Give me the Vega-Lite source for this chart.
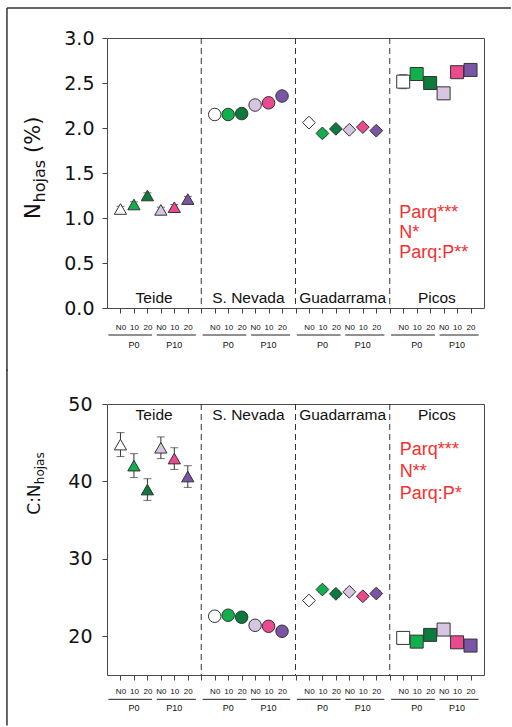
{
  "$schema": "https://vega.github.io/schema/vega-lite/v6.json",
  "padding": {"left": 5, "top": 6, "right": 0, "bottom": 0},
  "background": "white",
  "spacing": -5,
  "config": {
    "font": "Liberation Sans",
    "view": {"stroke": "#4a4a4a", "strokeWidth": 1},
    "axisY": {"labelFont": "DejaVu Sans", "labelFontSize": 19, "labelColor": "#111", "tickColor": "#444", "tickSize": 5, "labelPadding": 8, "domain": false, "grid": false},
    "axisX": {"labelFont": "Liberation Sans", "labelFontSize": 8, "labelColor": "#111", "tickColor": "#444", "tickSize": 5, "domain": false, "grid": false, "labelOverlap": false, "labelFlush": false, "labelBound": false}
  },
  "datasets": {
    "nleaf": [
      {"site": "Teide", "P": "P0", "N": "N0", "v": 1.10, "e": 0.03},
      {"site": "Teide", "P": "P0", "N": "10", "v": 1.15, "e": 0.03},
      {"site": "Teide", "P": "P0", "N": "20", "v": 1.25, "e": 0.03},
      {"site": "Teide", "P": "P10", "N": "N0", "v": 1.09, "e": 0.03},
      {"site": "Teide", "P": "P10", "N": "10", "v": 1.12, "e": 0.03},
      {"site": "Teide", "P": "P10", "N": "20", "v": 1.21, "e": 0.03},
      {"site": "S. Nevada", "P": "P0", "N": "N0", "v": 2.15, "e": 0.02},
      {"site": "S. Nevada", "P": "P0", "N": "10", "v": 2.15, "e": 0.02},
      {"site": "S. Nevada", "P": "P0", "N": "20", "v": 2.16, "e": 0.02},
      {"site": "S. Nevada", "P": "P10", "N": "N0", "v": 2.255, "e": 0.02},
      {"site": "S. Nevada", "P": "P10", "N": "10", "v": 2.28, "e": 0.02},
      {"site": "S. Nevada", "P": "P10", "N": "20", "v": 2.355, "e": 0.02},
      {"site": "Guadarrama", "P": "P0", "N": "N0", "v": 2.06, "e": 0.03},
      {"site": "Guadarrama", "P": "P0", "N": "10", "v": 1.94, "e": 0.03},
      {"site": "Guadarrama", "P": "P0", "N": "20", "v": 1.99, "e": 0.03},
      {"site": "Guadarrama", "P": "P10", "N": "N0", "v": 1.98, "e": 0.03},
      {"site": "Guadarrama", "P": "P10", "N": "10", "v": 2.01, "e": 0.03},
      {"site": "Guadarrama", "P": "P10", "N": "20", "v": 1.97, "e": 0.03},
      {"site": "Picos", "P": "P0", "N": "N0", "v": 2.515, "e": 0.078},
      {"site": "Picos", "P": "P0", "N": "10", "v": 2.60, "e": 0.05},
      {"site": "Picos", "P": "P0", "N": "20", "v": 2.50, "e": 0.07},
      {"site": "Picos", "P": "P10", "N": "N0", "v": 2.385, "e": 0.065},
      {"site": "Picos", "P": "P10", "N": "10", "v": 2.62, "e": 0.05},
      {"site": "Picos", "P": "P10", "N": "20", "v": 2.645, "e": 0.05}
    ],
    "cn": [
      {"site": "Teide", "P": "P0", "N": "N0", "v": 44.76, "e": 1.55},
      {"site": "Teide", "P": "P0", "N": "10", "v": 42.04, "e": 1.55},
      {"site": "Teide", "P": "P0", "N": "20", "v": 38.95, "e": 1.4},
      {"site": "Teide", "P": "P10", "N": "N0", "v": 44.35, "e": 1.4},
      {"site": "Teide", "P": "P10", "N": "10", "v": 42.95, "e": 1.4},
      {"site": "Teide", "P": "P10", "N": "20", "v": 40.63, "e": 1.4},
      {"site": "S. Nevada", "P": "P0", "N": "N0", "v": 22.59, "e": 0.3},
      {"site": "S. Nevada", "P": "P0", "N": "10", "v": 22.72, "e": 0.3},
      {"site": "S. Nevada", "P": "P0", "N": "20", "v": 22.46, "e": 0.3},
      {"site": "S. Nevada", "P": "P10", "N": "N0", "v": 21.42, "e": 0.3},
      {"site": "S. Nevada", "P": "P10", "N": "10", "v": 21.29, "e": 0.3},
      {"site": "S. Nevada", "P": "P10", "N": "20", "v": 20.65, "e": 0.3},
      {"site": "Guadarrama", "P": "P0", "N": "N0", "v": 24.62, "e": 0.4},
      {"site": "Guadarrama", "P": "P0", "N": "10", "v": 26.04, "e": 0.4},
      {"site": "Guadarrama", "P": "P0", "N": "20", "v": 25.48, "e": 0.4},
      {"site": "Guadarrama", "P": "P10", "N": "N0", "v": 25.74, "e": 0.4},
      {"site": "Guadarrama", "P": "P10", "N": "10", "v": 25.17, "e": 0.4},
      {"site": "Guadarrama", "P": "P10", "N": "20", "v": 25.52, "e": 0.4},
      {"site": "Picos", "P": "P0", "N": "N0", "v": 19.79, "e": 0.4},
      {"site": "Picos", "P": "P0", "N": "10", "v": 19.31, "e": 0.4},
      {"site": "Picos", "P": "P0", "N": "20", "v": 20.18, "e": 0.4},
      {"site": "Picos", "P": "P10", "N": "N0", "v": 20.87, "e": 0.4},
      {"site": "Picos", "P": "P10", "N": "10", "v": 19.22, "e": 0.4},
      {"site": "Picos", "P": "P10", "N": "20", "v": 18.80, "e": 0.4}
    ]
  },
  "vconcat": [
    {
      "width": 377,
      "height": 270,
      "data": {"name": "nleaf"},
      "transform": [
        {"calculate": "indexof(['Teide','S. Nevada','Guadarrama','Picos'], datum.site) * 7 + (datum.P == 'P10' ? 3 : 0) + indexof(['N0','10','20'], datum.N) + 1", "as": "pos"},
        {"calculate": "datum.P + ' ' + datum.N", "as": "trt"},
        {"calculate": "datum.v - datum.e", "as": "lo"},
        {"calculate": "datum.v + datum.e", "as": "hi"}
      ],
      "layer": [
        {
          "transform": [
            {"aggregate": [{"op": "max", "field": "pos", "as": "mx"}], "groupby": ["site"]},
            {"calculate": "datum.mx + 1", "as": "b"},
            {"filter": "datum.b < 28"}
          ],
          "mark": {"type": "rule", "strokeDash": [6, 4], "color": "#333", "strokeWidth": 1},
          "encoding": {
            "x": {"field": "b", "type": "quantitative", "scale": {"domain": [0, 28], "nice": false, "zero": false},
              "axis": {"title": null, "tickCount": 40, "values": [1,2,3,4,5,6,7,8,9,10,11,12,13,14,15,16,17,18,19,20,21,22,23,24,25,26,27], "labelPadding": 10,
                "labelExpr": "datum.value % 7 == 0 ? '' : (datum.value % 7 == 1 || datum.value % 7 == 4) ? 'N0' : (datum.value % 7 == 2 || datum.value % 7 == 5) ? '10' : '20'"}}
          }
        },
        {
          "mark": {"type": "rule", "color": "#333", "strokeWidth": 1},
          "encoding": {
            "x": {"field": "pos", "type": "quantitative", "scale": {"domain": [0, 28], "nice": false, "zero": false}, "axis": {"title": null}},
            "y": {"field": "lo", "type": "quantitative", "scale": {"domain": [0, 3], "nice": false, "zero": false},
              "axis": {"title": null, "values": [0, 0.5, 1, 1.5, 2, 2.5, 3], "tickCount": 20, "format": ".1f"}},
            "y2": {"field": "hi"}
          }
        },
        {
          "transform": [{"fold": ["lo", "hi"], "as": ["k", "cap"]}],
          "mark": {"type": "tick", "orient": "horizontal", "color": "#333", "thickness": 1, "size": 8},
          "encoding": {
            "x": {"field": "pos", "type": "quantitative", "scale": {"domain": [0, 28], "nice": false, "zero": false}, "axis": {"title": null}},
            "y": {"field": "cap", "type": "quantitative", "scale": {"domain": [0, 3], "nice": false, "zero": false}, "axis": {"title": null}}
          }
        },
        {
          "mark": {"type": "point", "filled": true, "stroke": "#333", "strokeWidth": 1, "opacity": 1},
          "encoding": {
            "x": {"field": "pos", "type": "quantitative", "scale": {"domain": [0, 28], "nice": false, "zero": false},
              "axis": {"title": null, "tickCount": 40, "values": [1,2,3,4,5,6,7,8,9,10,11,12,13,14,15,16,17,18,19,20,21,22,23,24,25,26,27], "labelPadding": 10,
                "labelExpr": "datum.value % 7 == 0 ? '' : (datum.value % 7 == 1 || datum.value % 7 == 4) ? 'N0' : (datum.value % 7 == 2 || datum.value % 7 == 5) ? '10' : '20'"}},
            "y": {"field": "v", "type": "quantitative", "scale": {"domain": [0, 3], "nice": false, "zero": false},
              "axis": {"title": null, "values": [0, 0.5, 1, 1.5, 2, 2.5, 3], "tickCount": 20, "format": ".1f"}},
            "shape": {"field": "site", "type": "nominal", "scale": {"domain": ["Teide", "S. Nevada", "Guadarrama", "Picos"], "range": ["triangle-up", "circle", "diamond", "square"]}, "legend": null},
            "size": {"field": "site", "type": "ordinal", "scale": {"domain": ["Teide", "S. Nevada", "Guadarrama", "Picos"], "range": [150, 169, 200, 160]}, "legend": null},
            "fill": {"field": "trt", "type": "nominal", "scale": {"domain": ["P0 N0", "P0 10", "P0 20", "P10 N0", "P10 10", "P10 20"], "range": ["#ffffff", "#12b04c", "#0b7a3b", "#d6c6e1", "#ec4a8e", "#7a55a6"]}, "legend": null}
          }
        },
        {
          "transform": [{"aggregate": [{"op": "mean", "field": "pos", "as": "c"}], "groupby": ["site"]}],
          "mark": {"type": "text", "fontSize": 15.5, "color": "#111", "baseline": "middle"},
          "encoding": {
            "x": {"field": "c", "type": "quantitative", "scale": {"domain": [0, 28], "nice": false, "zero": false}, "axis": {"title": null}},
            "y": {"datum": 0.114, "type": "quantitative", "scale": {"domain": [0, 3], "nice": false, "zero": false}, "axis": {"title": null}},
            "text": {"field": "site"}
          }
        },
        {
          "transform": [
            {"aggregate": [{"op": "min", "field": "pos", "as": "mn"}, {"op": "max", "field": "pos", "as": "mx"}], "groupby": ["site", "P"]},
            {"calculate": "datum.mn - (datum.P == 'P0' ? 0.9 : 0.3)", "as": "s"},
            {"calculate": "datum.mx + (datum.P == 'P0' ? 0.35 : 0.6)", "as": "e2"}
          ],
          "mark": {"type": "rule", "color": "#222", "strokeWidth": 1},
          "encoding": {
            "x": {"field": "s", "type": "quantitative", "scale": {"domain": [0, 28], "nice": false, "zero": false}, "axis": {"title": null}},
            "x2": {"field": "e2"},
            "y": {"datum": -0.3, "type": "quantitative", "scale": {"domain": [0, 3], "nice": false, "zero": false}, "axis": {"title": null}}
          }
        },
        {
          "transform": [{"aggregate": [{"op": "mean", "field": "pos", "as": "c"}], "groupby": ["site", "P"]}],
          "mark": {"type": "text", "fontSize": 9, "color": "#111", "baseline": "middle"},
          "encoding": {
            "x": {"field": "c", "type": "quantitative", "scale": {"domain": [0, 28], "nice": false, "zero": false}, "axis": {"title": null}},
            "y": {"datum": -0.41, "type": "quantitative", "scale": {"domain": [0, 3], "nice": false, "zero": false}, "axis": {"title": null}},
            "text": {"field": "P"}
          }
        },
        {
          "data": {"values": [{"t": "Parq***\nN*\nParq:P**"}]},
          "mark": {"type": "text", "align": "left", "baseline": "top", "lineBreak": "\n", "lineHeight": 20, "fontSize": 18, "color": "#f5302e"},
          "encoding": {
            "x": {"datum": 21.7, "type": "quantitative", "scale": {"domain": [0, 28], "nice": false, "zero": false}, "axis": {"title": null}},
            "y": {"datum": 1.159, "type": "quantitative", "scale": {"domain": [0, 3], "nice": false, "zero": false}, "axis": {"title": null}},
            "text": {"field": "t"}
          }
        },
        {
          "data": {"values": [{"t": "N"}]},
          "mark": {"type": "text", "align": "left", "baseline": "alphabetic", "angle": 270, "font": "DejaVu Sans", "fontSize": 21, "color": "#111"},
          "encoding": {
            "x": {"datum": -4.976, "type": "quantitative", "scale": {"domain": [0, 28], "nice": false, "zero": false}, "axis": {"title": null}},
            "y": {"datum": 0.99, "type": "quantitative", "scale": {"domain": [0, 3], "nice": false, "zero": false}, "axis": {"title": null}},
            "text": {"field": "t"}
          }
        },
        {
          "data": {"values": [{"t": "hojas"}]},
          "mark": {"type": "text", "align": "left", "baseline": "alphabetic", "angle": 270, "font": "DejaVu Sans", "fontSize": 16, "dx": 16.5, "dy": 5, "color": "#111"},
          "encoding": {
            "x": {"datum": -4.976, "type": "quantitative", "scale": {"domain": [0, 28], "nice": false, "zero": false}, "axis": {"title": null}},
            "y": {"datum": 0.99, "type": "quantitative", "scale": {"domain": [0, 3], "nice": false, "zero": false}, "axis": {"title": null}},
            "text": {"field": "t"}
          }
        },
        {
          "data": {"values": [{"t": "(%)"}]},
          "mark": {"type": "text", "align": "left", "baseline": "alphabetic", "angle": 270, "font": "DejaVu Sans", "fontSize": 21, "dx": 66, "color": "#111"},
          "encoding": {
            "x": {"datum": -4.976, "type": "quantitative", "scale": {"domain": [0, 28], "nice": false, "zero": false}, "axis": {"title": null}},
            "y": {"datum": 0.99, "type": "quantitative", "scale": {"domain": [0, 3], "nice": false, "zero": false}, "axis": {"title": null}},
            "text": {"field": "t"}
          }
        },
        {
          "data": {"values": [{"part": "left"}]},
          "mark": {"type": "rule", "color": "#333", "strokeWidth": 1.5},
          "encoding": {
            "x": {"datum": -7.43, "type": "quantitative", "scale": {"domain": [0, 28], "nice": false, "zero": false}, "axis": {"title": null}},
            "y": {"datum": 3.333, "type": "quantitative", "scale": {"domain": [0, 3], "nice": false, "zero": false}, "axis": {"title": null}},
            "y2": {"datum": -0.7}
          }
        },
        {
          "data": {"values": [{"part": "top"}]},
          "mark": {"type": "rule", "color": "#333", "strokeWidth": 1.5},
          "encoding": {
            "x": {"datum": -7.43, "type": "quantitative", "scale": {"domain": [0, 28], "nice": false, "zero": false}, "axis": {"title": null}},
            "x2": {"datum": 30.0},
            "y": {"datum": 3.333, "type": "quantitative", "scale": {"domain": [0, 3], "nice": false, "zero": false}, "axis": {"title": null}}
          }
        }
      ]
    },
    {
      "width": 377,
      "height": 271,
      "data": {"name": "cn"},
      "transform": [
        {"calculate": "indexof(['Teide','S. Nevada','Guadarrama','Picos'], datum.site) * 7 + (datum.P == 'P10' ? 3 : 0) + indexof(['N0','10','20'], datum.N) + 1", "as": "pos"},
        {"calculate": "datum.P + ' ' + datum.N", "as": "trt"},
        {"calculate": "datum.v - datum.e", "as": "lo"},
        {"calculate": "datum.v + datum.e", "as": "hi"}
      ],
      "layer": [
        {
          "transform": [
            {"aggregate": [{"op": "max", "field": "pos", "as": "mx"}], "groupby": ["site"]},
            {"calculate": "datum.mx + 1", "as": "b"},
            {"filter": "datum.b < 28"}
          ],
          "mark": {"type": "rule", "strokeDash": [6, 4], "color": "#333", "strokeWidth": 1},
          "encoding": {
            "x": {"field": "b", "type": "quantitative", "scale": {"domain": [0, 28], "nice": false, "zero": false},
              "axis": {"title": null, "tickCount": 40, "values": [1,2,3,4,5,6,7,8,9,10,11,12,13,14,15,16,17,18,19,20,21,22,23,24,25,26,27], "labelPadding": 7,
                "labelExpr": "datum.value % 7 == 0 ? '' : (datum.value % 7 == 1 || datum.value % 7 == 4) ? 'N0' : (datum.value % 7 == 2 || datum.value % 7 == 5) ? '10' : '20'"}}
          }
        },
        {
          "mark": {"type": "rule", "color": "#333", "strokeWidth": 1},
          "encoding": {
            "x": {"field": "pos", "type": "quantitative", "scale": {"domain": [0, 28], "nice": false, "zero": false}, "axis": {"title": null}},
            "y": {"field": "lo", "type": "quantitative", "scale": {"domain": [15, 50], "nice": false, "zero": false},
              "axis": {"title": null, "values": [20, 30, 40, 50], "tickCount": 20, "labelPadding": 10}},
            "y2": {"field": "hi"}
          }
        },
        {
          "transform": [{"fold": ["lo", "hi"], "as": ["k", "cap"]}],
          "mark": {"type": "tick", "orient": "horizontal", "color": "#333", "thickness": 1, "size": 8},
          "encoding": {
            "x": {"field": "pos", "type": "quantitative", "scale": {"domain": [0, 28], "nice": false, "zero": false}, "axis": {"title": null}},
            "y": {"field": "cap", "type": "quantitative", "scale": {"domain": [15, 50], "nice": false, "zero": false}, "axis": {"title": null}}
          }
        },
        {
          "mark": {"type": "point", "filled": true, "stroke": "#333", "strokeWidth": 1, "opacity": 1},
          "encoding": {
            "x": {"field": "pos", "type": "quantitative", "scale": {"domain": [0, 28], "nice": false, "zero": false},
              "axis": {"title": null, "tickCount": 40, "values": [1,2,3,4,5,6,7,8,9,10,11,12,13,14,15,16,17,18,19,20,21,22,23,24,25,26,27], "labelPadding": 7,
                "labelExpr": "datum.value % 7 == 0 ? '' : (datum.value % 7 == 1 || datum.value % 7 == 4) ? 'N0' : (datum.value % 7 == 2 || datum.value % 7 == 5) ? '10' : '20'"}},
            "y": {"field": "v", "type": "quantitative", "scale": {"domain": [15, 50], "nice": false, "zero": false},
              "axis": {"title": null, "values": [20, 30, 40, 50], "tickCount": 20, "labelPadding": 10}},
            "shape": {"field": "site", "type": "nominal", "scale": {"domain": ["Teide", "S. Nevada", "Guadarrama", "Picos"], "range": ["triangle-up", "circle", "diamond", "square"]}, "legend": null},
            "size": {"field": "site", "type": "ordinal", "scale": {"domain": ["Teide", "S. Nevada", "Guadarrama", "Picos"], "range": [160, 155, 200, 160]}, "legend": null},
            "fill": {"field": "trt", "type": "nominal", "scale": {"domain": ["P0 N0", "P0 10", "P0 20", "P10 N0", "P10 10", "P10 20"], "range": ["#ffffff", "#12b04c", "#0b7a3b", "#d6c6e1", "#ec4a8e", "#7a55a6"]}, "legend": null}
          }
        },
        {
          "transform": [{"aggregate": [{"op": "mean", "field": "pos", "as": "c"}], "groupby": ["site"]}],
          "mark": {"type": "text", "fontSize": 15.5, "color": "#111", "baseline": "middle"},
          "encoding": {
            "x": {"field": "c", "type": "quantitative", "scale": {"domain": [0, 28], "nice": false, "zero": false}, "axis": {"title": null}},
            "y": {"datum": 48.55, "type": "quantitative", "scale": {"domain": [15, 50], "nice": false, "zero": false}, "axis": {"title": null}},
            "text": {"field": "site"}
          }
        },
        {
          "transform": [
            {"aggregate": [{"op": "min", "field": "pos", "as": "mn"}, {"op": "max", "field": "pos", "as": "mx"}], "groupby": ["site", "P"]},
            {"calculate": "datum.mn - (datum.P == 'P0' ? 0.9 : 0.3)", "as": "s"},
            {"calculate": "datum.mx + (datum.P == 'P0' ? 0.35 : 0.6)", "as": "e2"}
          ],
          "mark": {"type": "rule", "color": "#222", "strokeWidth": 1},
          "encoding": {
            "x": {"field": "s", "type": "quantitative", "scale": {"domain": [0, 28], "nice": false, "zero": false}, "axis": {"title": null}},
            "x2": {"field": "e2"},
            "y": {"datum": 11.86, "type": "quantitative", "scale": {"domain": [15, 50], "nice": false, "zero": false}, "axis": {"title": null}}
          }
        },
        {
          "transform": [{"aggregate": [{"op": "mean", "field": "pos", "as": "c"}], "groupby": ["site", "P"]}],
          "mark": {"type": "text", "fontSize": 9, "color": "#111", "baseline": "middle"},
          "encoding": {
            "x": {"field": "c", "type": "quantitative", "scale": {"domain": [0, 28], "nice": false, "zero": false}, "axis": {"title": null}},
            "y": {"datum": 10.7, "type": "quantitative", "scale": {"domain": [15, 50], "nice": false, "zero": false}, "axis": {"title": null}},
            "text": {"field": "P"}
          }
        },
        {
          "data": {"values": [{"t": "Parq***\nN**\nParq:P*"}]},
          "mark": {"type": "text", "align": "left", "baseline": "top", "lineBreak": "\n", "lineHeight": 22, "fontSize": 18, "color": "#f5302e"},
          "encoding": {
            "x": {"datum": 21.75, "type": "quantitative", "scale": {"domain": [0, 28], "nice": false, "zero": false}, "axis": {"title": null}},
            "y": {"datum": 45.16, "type": "quantitative", "scale": {"domain": [15, 50], "nice": false, "zero": false}, "axis": {"title": null}},
            "text": {"field": "t"}
          }
        },
        {
          "data": {"values": [{"t": "C:N"}]},
          "mark": {"type": "text", "align": "left", "baseline": "alphabetic", "angle": 270, "font": "DejaVu Sans", "fontSize": 17, "color": "#111"},
          "encoding": {
            "x": {"datum": -4.98, "type": "quantitative", "scale": {"domain": [0, 28], "nice": false, "zero": false}, "axis": {"title": null}},
            "y": {"datum": 35.7, "type": "quantitative", "scale": {"domain": [15, 50], "nice": false, "zero": false}, "axis": {"title": null}},
            "text": {"field": "t"}
          }
        },
        {
          "data": {"values": [{"t": "hojas"}]},
          "mark": {"type": "text", "align": "left", "baseline": "alphabetic", "angle": 270, "font": "DejaVu Sans", "fontSize": 12, "dx": 30.5, "dy": 4, "color": "#111"},
          "encoding": {
            "x": {"datum": -4.98, "type": "quantitative", "scale": {"domain": [0, 28], "nice": false, "zero": false}, "axis": {"title": null}},
            "y": {"datum": 35.7, "type": "quantitative", "scale": {"domain": [15, 50], "nice": false, "zero": false}, "axis": {"title": null}},
            "text": {"field": "t"}
          }
        },
        {
          "data": {"values": [{"part": "left"}]},
          "mark": {"type": "rule", "color": "#333", "strokeWidth": 1.5},
          "encoding": {
            "x": {"datum": -7.43, "type": "quantitative", "scale": {"domain": [0, 28], "nice": false, "zero": false}, "axis": {"title": null}},
            "y": {"datum": 54.46, "type": "quantitative", "scale": {"domain": [15, 50], "nice": false, "zero": false}, "axis": {"title": null}},
            "y2": {"datum": 8.48}
          }
        }
      ]
    }
  ]
}
